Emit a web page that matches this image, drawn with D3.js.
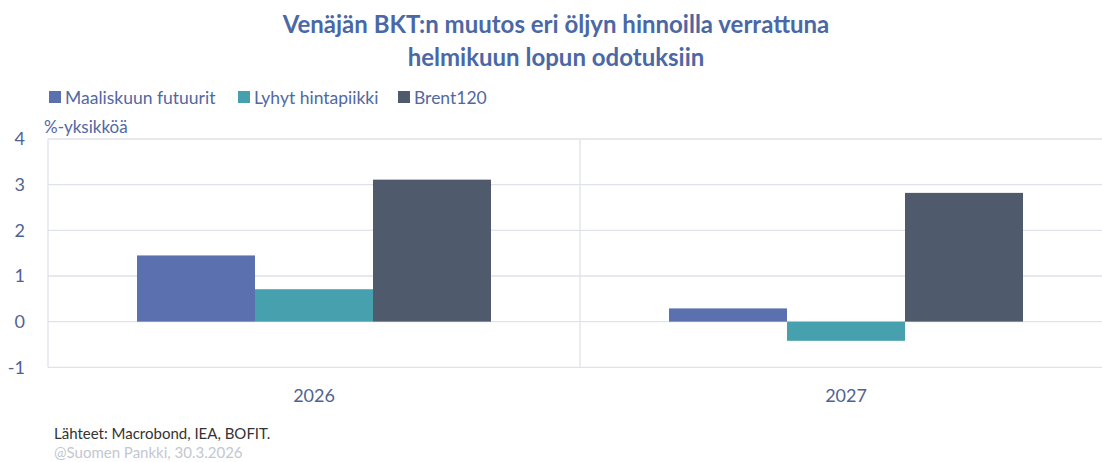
<!DOCTYPE html>
<html><head><meta charset="utf-8">
<script src="https://cdn.jsdelivr.net/npm/d3@7"></script>
<style>body{margin:0;background:#fff}svg{display:block;font-family:Lato,'Open Sans',sans-serif}</style>
</head><body><svg id="c" width="1102" height="462"></svg>
<script>
const categories = ["2026", "2027"];
const seriesNames = ["Maaliskuun futuurit", "Lyhyt hintapiikki", "Brent120"];
const futuurit = [1.45, 0.29];
const hintapiikki = [0.71, -0.42];
const brent120 = [3.11, 2.82];
const yTicks = [-1, 0, 1, 2, 3, 4];
const colors = ["#5b70ae", "#46a0ad", "#4f5a6c"];

const seriesVals = [futuurit, hintapiikki, brent120];
const svg = d3.select("#c");
const L = 48, R = 1112, T = 139, B = 367.3;
const x0 = d3.scaleBand().domain(categories).range([L, R]);
const bw = x0.bandwidth();
const x1 = d3.scaleBand().domain(seriesNames).range([bw*0.1673, bw*0.8327]);
const y = d3.scaleLinear().domain([-1, 4]).range([B, T]);

// gridlines
svg.append("g").selectAll("line").data(yTicks).join("line")
  .attr("x1", L).attr("x2", 1102).attr("y1", d => y(d)).attr("y2", d => y(d))
  .attr("stroke", "#dfe2e9").attr("stroke-width", 1.3);
// vertical separators
svg.append("g").selectAll("line").data(categories).join("line")
  .attr("x1", d => x0(d)).attr("x2", d => x0(d)).attr("y1", T).attr("y2", B)
  .attr("stroke", "#dfe2e9").attr("stroke-width", 1.3);

// y axis labels
const yAxis = d3.axisLeft(y).tickValues(yTicks).tickSize(0).tickPadding(0).tickFormat(d => String(d));
const ga = svg.append("g").attr("transform", `translate(25,0)`).call(yAxis);
ga.select(".domain").remove();
ga.selectAll("text").attr("font-size", 18).attr("fill", "#4f6294").attr("font-family", "Lato,sans-serif");

// bars
const groups = svg.append("g").selectAll("g").data(categories).join("g")
  .attr("transform", d => `translate(${x0(d)},0)`);
groups.selectAll("rect").data((d, i) => seriesNames.map((s, j) => ({s, j, v: seriesVals[j][i]}))).join("rect")
  .attr("x", d => x1(d.s)).attr("width", x1.bandwidth())
  .attr("y", d => y(Math.max(0, d.v))).attr("height", d => Math.abs(y(d.v) - y(0)))
  .attr("fill", d => colors[d.j]);

// x labels
const xAxis = d3.axisBottom(x0).tickSize(0).tickPadding(0);
const gx = svg.append("g").attr("transform", `translate(0,402)`).call(xAxis);
gx.select(".domain").remove();
gx.selectAll("text").attr("font-size", 18).attr("fill", "#4f6294").attr("font-family", "Lato,sans-serif").attr("dy", 0);

// title
const title = svg.append("text").attr("x", 556).attr("text-anchor", "middle")
  .attr("font-weight", "bold").attr("font-size", 24).attr("fill", "#4b68a6");
title.append("tspan").attr("x", 556).attr("y", 33).text("Venäjän BKT:n muutos eri öljyn hinnoilla verrattuna");
title.append("tspan").attr("x", 556).attr("y", 66).text("helmikuun lopun odotuksiin");

// legend
const legX = [48, 237, 397];
const lg = svg.append("g").selectAll("g").data(seriesNames).join("g")
  .attr("transform", (d, i) => `translate(${legX[i]},0)`);
lg.append("rect").attr("x", 1).attr("y", 91).attr("width", 12).attr("height", 12).attr("fill", (d, i) => colors[i]);
lg.append("text").attr("x", 17).attr("y", 104).attr("font-size", 17.5).attr("fill", "#5068a4").text(d => d);

svg.append("text").attr("x", 44).attr("y", 133).attr("font-size", 17).attr("fill", "#5068a4").text("%-yksikköä");

// footer
svg.append("text").attr("x", 54).attr("y", 439).attr("font-size", 15).attr("fill", "#333").text("Lähteet: Macrobond, IEA, BOFIT.");
svg.append("text").attr("x", 54).attr("y", 458).attr("font-size", 15).attr("fill", "#c3c7d0").text("@Suomen Pankki, 30.3.2026");
</script></body></html>
